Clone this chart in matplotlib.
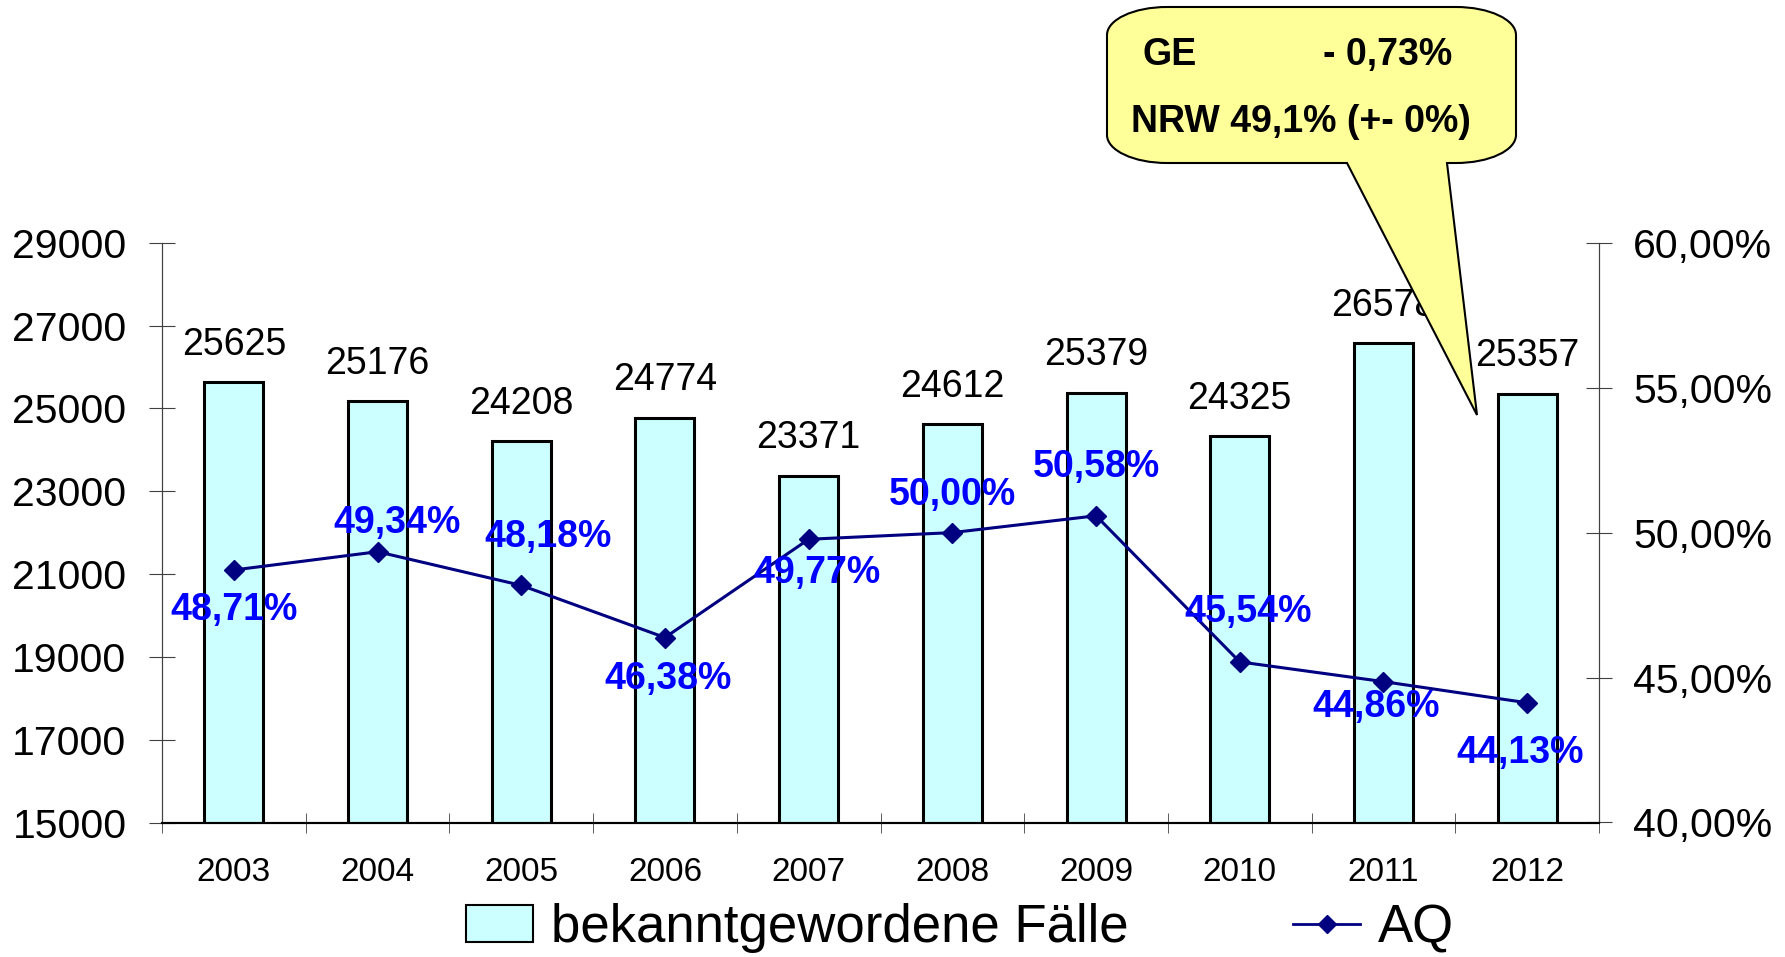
import numpy as np
import matplotlib
matplotlib.use('Agg')
from matplotlib import pyplot as plt
from matplotlib.patches import Patch, PathPatch
from matplotlib.lines import Line2D
from matplotlib.path import Path

plt.rcParams['font.family'] = ['Liberation Sans', 'DejaVu Sans']

years = ['2003', '2004', '2005', '2006', '2007', '2008', '2009', '2010', '2011', '2012']
cases = [25625, 25176, 24208, 24774, 23371, 24612, 25379, 24325, 26578, 25357]
aq = [48.71, 49.34, 48.18, 46.38, 49.77, 50.00, 50.58, 45.54, 44.86, 44.13]
aq_labels = ['48,71%', '49,34%', '48,18%', '46,38%', '49,77%',
             '50,00%', '50,58%', '45,54%', '44,86%', '44,13%']
# label offsets in points (dx, dy) as placed in the original
aq_offsets = [(0, -29), (14, 21), (19, 35), (2, -30), (6, -24),
              (0, 27), (0, 35), (6, 36), (-5, -18), (-5, -36)]

left_ticks = [15000, 17000, 19000, 21000, 23000, 25000, 27000, 29000]
right_ticks = [40, 45, 50, 55, 60]
right_ticklabels = ['40,00%', '45,00%', '50,00%', '55,00%', '60,00%']

bar_color = '#CCFFFF'
line_color = '#000080'
label_color = '#0000FF'

W, H = 1785, 957
fig = plt.figure(figsize=(W / 100, H / 100), dpi=100)
ax = fig.add_axes([162 / W, 1 - 822.5 / H, (1599 - 162) / W, (822.5 - 242.7) / H])

x = np.arange(len(years))
ax.bar(x, cases, width=0.41, color=bar_color, edgecolor='black', linewidth=2.2, zorder=2)
for i, v in enumerate(cases):
    ax.annotate(str(v), (i, v), xytext=(0, 27), textcoords='offset points',
                ha='center', va='center', fontsize=27)

ax.set_xlim(-0.5, len(years) - 0.5)
ax.set_ylim(15000, 29000)
ax.set_yticks(left_ticks)
ax.set_yticklabels([str(t) for t in left_ticks], fontsize=29.5)
ax.set_xticks(x)
ax.set_xticklabels(years, fontsize=24)
ax.set_xticks(np.arange(-0.5, len(years)), minor=True)
ax.tick_params(axis='x', which='major', length=0, pad=25)
ax.tick_params(axis='x', which='minor', direction='inout', length=15, color='#404040')
ax.tick_params(axis='y', direction='inout', length=19, color='#404040', pad=16)

ax2 = ax.twinx()
ax2.plot(x, aq, color=line_color, linewidth=2.2, marker='D', markersize=10, zorder=3)
for i, v in enumerate(aq):
    ax2.annotate(aq_labels[i], (i, v), xytext=aq_offsets[i], textcoords='offset points',
                 ha='center', va='center', fontsize=27, fontweight='bold', color=label_color)
ax2.set_ylim(40, 60)
ax2.set_yticks(right_ticks)
ax2.set_yticklabels(right_ticklabels, fontsize=29.5)
ax2.tick_params(axis='y', direction='inout', length=19, color='#404040', pad=15)

for a in (ax, ax2):
    a.spines['top'].set_visible(False)
    a.spines['left'].set_color('#404040')
    a.spines['right'].set_color('#404040')
    a.spines['bottom'].set_color('black')
    a.spines['bottom'].set_linewidth(1.5)

# legend
handles = [Patch(facecolor=bar_color, edgecolor='black', linewidth=1.5),
           Line2D([], [], color=line_color, linewidth=2, marker='D', markersize=9)]
fig.legend(handles, ['bekanntgewordene Fälle', 'AQ'], loc='center',
           bbox_to_anchor=(0.538, 0.030), ncol=2, frameon=False, fontsize=38,
           handlelength=1.27, handletextpad=0.34, columnspacing=3.12, borderpad=0)

# speech-bubble callout
L, R, T, B = 1107, 1516, 7, 163
rx, ry, k = 60, 28, 0.5523
tail_l, tail_r, tip = 1347, 1447, (1477, 415)
pts = [
    ((L + rx, T), Path.MOVETO),
    ((R - rx, T), Path.LINETO),
    ((R - rx + k * rx, T), Path.CURVE4), ((R, T + ry - k * ry), Path.CURVE4), ((R, T + ry), Path.CURVE4),
    ((R, B - ry), Path.LINETO),
    ((R, B - ry + k * ry), Path.CURVE4), ((R - rx + k * rx, B), Path.CURVE4), ((R - rx, B), Path.CURVE4),
    ((tail_r, B), Path.LINETO),
    (tip, Path.LINETO),
    ((tail_l, B), Path.LINETO),
    ((L + rx, B), Path.LINETO),
    ((L + rx - k * rx, B), Path.CURVE4), ((L, B - ry + k * ry), Path.CURVE4), ((L, B - ry), Path.CURVE4),
    ((L, T + ry), Path.LINETO),
    ((L, T + ry - k * ry), Path.CURVE4), ((L + rx - k * rx, T), Path.CURVE4), ((L + rx, T), Path.CURVE4),
    ((L + rx, T), Path.CLOSEPOLY),
]
verts = [(px / W, 1 - py / H) for (px, py), _ in pts]
codes = [c for _, c in pts]
bubble = PathPatch(Path(verts, codes), facecolor='#FFFF99', edgecolor='black',
                   linewidth=1.5, transform=fig.transFigure, zorder=5)
fig.add_artist(bubble)
fig.text(1142 / W, 1 - 55 / H, 'GE', fontsize=27, fontweight='bold', va='center', zorder=6)
fig.text(1323 / W, 1 - 55 / H, '- 0,73%', fontsize=27, fontweight='bold', va='center', zorder=6)
fig.text(1131 / W, 1 - 122 / H, 'NRW 49,1% (+- 0%)', fontsize=27, fontweight='bold',
         va='center', zorder=6)

plt.savefig('out.png', dpi=100)
